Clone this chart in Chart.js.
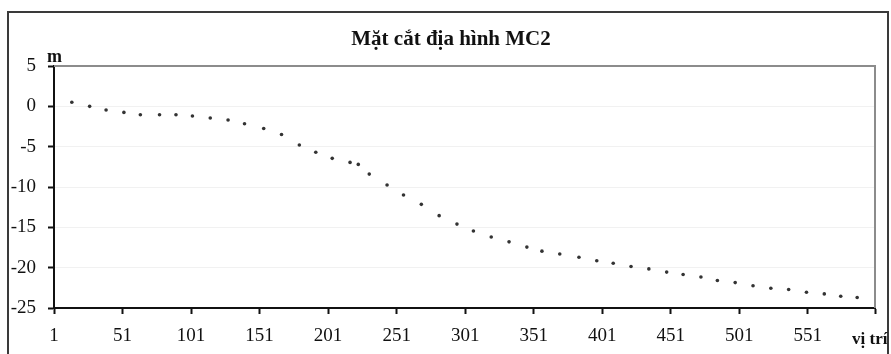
<!DOCTYPE html>
<html>
<head>
<meta charset="utf-8">
<script src="https://cdn.jsdelivr.net/npm/chart.js@4/dist/chart.umd.min.js"></script>
<style>
  html, body { margin: 0; padding: 0; background: #fff; }
  #wrap { width: 891px; height: 354px; position: relative; }
</style>
</head>
<body>
<div id="wrap"><canvas id="c" width="891" height="354"></canvas></div>
<script>
// ---- data ----
const titleText = "Mặt cắt địa hình MC2";
const yAxisLabel = "m";
const xAxisLabel = "vị trí";
const positions = [14, 27, 39, 52, 64, 78, 90, 102, 115, 128, 140, 154, 167, 180, 192, 204, 217, 223, 231, 244,
                   256, 269, 282, 295, 307, 320, 333, 346, 357, 370, 384, 397, 409, 422, 435, 448, 460, 473, 485,
                   498, 511, 524, 537, 550, 563, 575, 587];
const elevations = [0.5, 0.0, -0.45, -0.75, -1.05, -1.05, -1.05, -1.2, -1.45, -1.7, -2.15, -2.75, -3.5, -4.8, -5.7,
                    -6.45, -6.95, -7.2, -8.4, -9.75, -11.0, -12.15, -13.55, -14.6, -15.45, -16.2, -16.8, -17.45,
                    -17.95, -18.3, -18.7, -19.15, -19.45, -19.85, -20.15, -20.55, -20.85, -21.15, -21.6, -21.85,
                    -22.25, -22.55, -22.7, -23.05, -23.25, -23.55, -23.7];
const xTickValues = [1, 51, 101, 151, 201, 251, 301, 351, 401, 451, 501, 551];
const xMin = 1, xMax = 600;
const yTickValues = [5, 0, -5, -10, -15, -20, -25];

const points = positions.map((p, i) => ({ x: p, y: elevations[i] }));

const frame = {
  id: 'frame',
  beforeDraw(chart) {
    const ctx = chart.ctx;
    ctx.save();
    ctx.fillStyle = '#fff';
    ctx.fillRect(0, 0, chart.width, chart.height);
    ctx.restore();
  },
  afterDraw(chart) {
    const ctx = chart.ctx;
    const a = chart.chartArea;
    ctx.save();
    // plot-area top and right edges
    ctx.strokeStyle = '#8c8c8c';
    ctx.lineWidth = 2;
    ctx.beginPath();
    ctx.moveTo(a.left, a.top);
    ctx.lineTo(a.right, a.top);
    ctx.lineTo(a.right, a.bottom);
    ctx.stroke();
    // outer chart border
    ctx.strokeStyle = '#3a3a3a';
    ctx.lineWidth = 2;
    ctx.strokeRect(8, 12, 880, 360);
    // title
    ctx.fillStyle = '#111';
    ctx.font = 'bold 21px "Liberation Serif", "DejaVu Serif", serif';
    ctx.textAlign = 'center';
    ctx.textBaseline = 'alphabetic';
    ctx.fillText(titleText, 451, 45);
    // axis titles
    ctx.font = 'bold 18px "Liberation Serif", serif';
    ctx.textAlign = 'left';
    ctx.fillText(yAxisLabel, 47, 62);
    ctx.font = 'bold 17px "Liberation Serif", serif';
    ctx.fillText(xAxisLabel, 852, 344);
    ctx.restore();
  }
};

new Chart(document.getElementById('c'), {
  type: 'scatter',
  data: {
    datasets: [{
      data: points,
      showLine: false,
      pointRadius: 1.8,
      pointHoverRadius: 1.8,
      pointBackgroundColor: '#333',
      pointBorderColor: '#333',
      pointBorderWidth: 0
    }]
  },
  options: {
    responsive: false,
    animation: false,
    devicePixelRatio: 1,
    layout: { padding: { left: 0, top: 66, right: 16, bottom: 10 } },
    plugins: { legend: { display: false }, title: { display: false }, tooltip: { enabled: false } },
    scales: {
      x: {
        type: 'linear',
        min: xMin,
        max: xMax,
        afterBuildTicks(scale) {
          scale.ticks = xTickValues.concat([xMax]).map(v => ({ value: v }));
        },
        afterFit(scale) { scale.height = 36; },
        border: { display: true, color: '#111', width: 2 },
        grid: { display: true, drawOnChartArea: false, drawTicks: true, tickLength: 6, tickColor: '#111', tickWidth: 2 },
        ticks: {
          autoSkip: false,
          maxRotation: 0,
          padding: 11,
          color: '#111',
          font: { family: '"Liberation Serif", serif', size: 19 },
          callback: (v) => xTickValues.includes(v) ? String(v) : ''
        }
      },
      y: {
        type: 'linear',
        min: -25,
        max: 5,
        afterBuildTicks(scale) {
          scale.ticks = yTickValues.map(v => ({ value: v }));
        },
        afterFit(scale) { scale.width = 54; },
        border: { display: true, color: '#111', width: 2 },
        grid: { display: true, drawOnChartArea: true, color: '#f1f1f1', lineWidth: 1, drawTicks: true, tickLength: 6, tickColor: '#111', tickWidth: 2 },
        ticks: {
          padding: 12,
          color: '#111',
          font: { family: '"Liberation Serif", serif', size: 19 }
        }
      }
    }
  },
  plugins: [frame]
});
</script>
</body>
</html>
